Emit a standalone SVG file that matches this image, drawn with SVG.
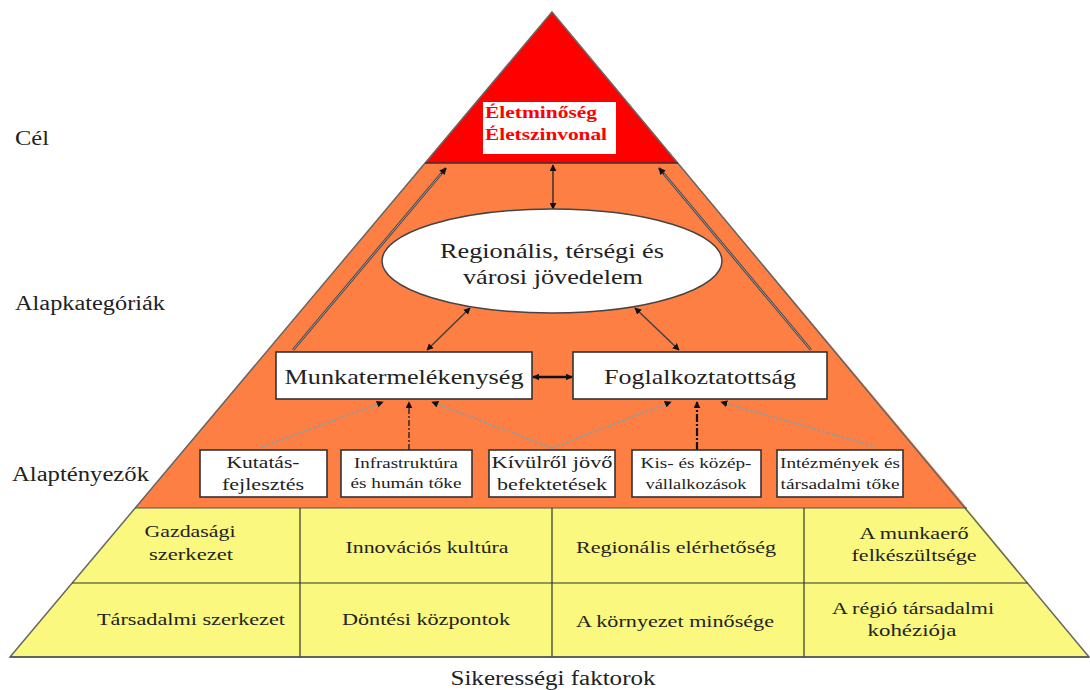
<svg xmlns="http://www.w3.org/2000/svg" width="1090" height="690" viewBox="0 0 1090 690" font-family="'Liberation Serif', 'DejaVu Serif', serif">
<style>
text{font-family:'Liberation Serif','DejaVu Serif',serif;fill:#222}
.lbl{font-size:20px}
.box{fill:#fff;stroke:#333;stroke-width:1.6}
.t22{font-size:22px;text-anchor:middle}
.t21{font-size:21px;text-anchor:middle}
.t17{font-size:17px;text-anchor:middle}
.t15{font-size:15px;text-anchor:middle}
.cell{font-size:16px;text-anchor:middle}
.goal{font-size:16px;font-weight:bold;fill:#FF0000}
.dl{stroke:#444;stroke-width:2.6;fill:none}
.dli{stroke:#bbb;stroke-width:0.8;fill:none}
.dot{stroke:#999;stroke-width:2;stroke-dasharray:3 2;fill:none}
</style>
<defs>
<marker id="ah" viewBox="0 0 10 10" refX="9" refY="5" markerWidth="7" markerHeight="7" markerUnits="userSpaceOnUse" orient="auto-start-reverse">
<path d="M0,0 L10,5 L0,10 z" fill="#111"/>
</marker>
</defs>
<rect width="1090" height="690" fill="#fff"/>
<g id="pyramid">
<polygon points="552,12 425,163 678,163" fill="#FF0000"/>
<polygon points="425,163 678,163 967,508 135,508" fill="#FD7F43"/>
<polygon points="135,508 967,508 1089,657 10,657" fill="#FAF87E"/>
<polygon points="552,12 1089,657 10,657" fill="none" stroke="#666" stroke-width="1.5"/>
<line x1="425" y1="163" x2="678" y2="163" stroke="#333" stroke-width="1.5"/>
<line x1="135" y1="508" x2="967" y2="508" stroke="#555" stroke-width="1.2"/>
<line x1="72" y1="583" x2="1028" y2="583" stroke="#333" stroke-width="1.2"/>
<line x1="300" y1="508" x2="300" y2="657" stroke="#333" stroke-width="1.2"/>
<line x1="552" y1="508" x2="552" y2="657" stroke="#333" stroke-width="1.2"/>
<line x1="804" y1="508" x2="804" y2="657" stroke="#333" stroke-width="1.2"/>
<line x1="10" y1="657" x2="1089" y2="657" stroke="#555" stroke-width="1.5"/>
</g>
<g id="labels">
<text class="lbl" x="15" y="145" textLength="34" lengthAdjust="spacingAndGlyphs">Cél</text>
<text class="lbl" x="15" y="310" textLength="150" lengthAdjust="spacingAndGlyphs">Alapkategóriák</text>
<text class="lbl" x="12" y="481" textLength="137" lengthAdjust="spacingAndGlyphs">Alaptényezők</text>
<text class="lbl" x="553" y="685" text-anchor="middle" textLength="205" lengthAdjust="spacingAndGlyphs">Sikerességi faktorok</text>
</g>
<g id="goal">
<rect x="483" y="102" width="133" height="52" fill="#fff"/>
<text class="goal" x="485" y="118" textLength="112" lengthAdjust="spacingAndGlyphs">Életminőség</text>
<text class="goal" x="485" y="140" textLength="122" lengthAdjust="spacingAndGlyphs">Életszinvonal</text>
</g>
<g id="connectors">
<line class="dl" x1="446" y1="168" x2="293" y2="350"/>
<line class="dli" x1="446" y1="168" x2="293" y2="350"/>
<line x1="446" y1="168" x2="441" y2="174" stroke="#111" stroke-width="1" marker-start="url(#ah)"/>
<line class="dl" x1="659" y1="168" x2="811" y2="350"/>
<line class="dli" x1="659" y1="168" x2="811" y2="350"/>
<line x1="659" y1="168" x2="664" y2="174" stroke="#111" stroke-width="1" marker-start="url(#ah)"/>
<line x1="553" y1="165" x2="553" y2="209" stroke="#222" stroke-width="1.3" marker-start="url(#ah)" marker-end="url(#ah)"/>
<line x1="470" y1="308" x2="427" y2="350" stroke="#444" stroke-width="1.6" marker-start="url(#ah)" marker-end="url(#ah)"/>
<line x1="635" y1="308" x2="679" y2="350" stroke="#444" stroke-width="1.6" marker-start="url(#ah)" marker-end="url(#ah)"/>
<line x1="533" y1="377" x2="572" y2="377" stroke="#111" stroke-width="2.4" marker-start="url(#ah)" marker-end="url(#ah)"/>
<line class="dot" x1="262" y1="447" x2="383" y2="402" marker-end="url(#ah)"/>
<line x1="409" y1="450" x2="409" y2="402" stroke="#222" stroke-width="1.4" stroke-dasharray="6 2 2 2" marker-end="url(#ah)"/>
<line class="dot" x1="552" y1="448" x2="432" y2="402" marker-end="url(#ah)"/>
<line class="dot" x1="552" y1="448" x2="671" y2="402" marker-end="url(#ah)"/>
<line x1="697" y1="450" x2="697" y2="402" stroke="#111" stroke-width="2.2" stroke-dasharray="8 2 2 2" marker-end="url(#ah)"/>
<line class="dot" x1="873" y1="446" x2="721" y2="402" marker-end="url(#ah)"/>
</g>
<g id="income">
<ellipse cx="552" cy="261" rx="170" ry="52" fill="#fff" stroke="#444" stroke-width="1.5"/>
<text class="t21" x="552" y="258" textLength="224" lengthAdjust="spacingAndGlyphs">Regionális, térségi és</text>
<text class="t21" x="553" y="284" textLength="180" lengthAdjust="spacingAndGlyphs">városi jövedelem</text>
</g>
<g id="productivity">
<rect class="box" x="276" y="352" width="256" height="47"/>
<text class="t22" x="404" y="384" textLength="239" lengthAdjust="spacingAndGlyphs">Munkatermelékenység</text>
</g>
<g id="employment">
<rect class="box" x="573" y="352" width="254" height="47"/>
<text class="t22" x="700" y="384" textLength="192" lengthAdjust="spacingAndGlyphs">Foglalkoztatottság</text>
</g>
<g id="rnd">
<rect class="box" x="200" y="450" width="127" height="47"/>
<text class="t17" x="263" y="468" textLength="73" lengthAdjust="spacingAndGlyphs">Kutatás-</text>
<text class="t17" x="263" y="490" textLength="82" lengthAdjust="spacingAndGlyphs">fejlesztés</text>
</g>
<g id="infra">
<rect class="box" x="341" y="450" width="131" height="47"/>
<text class="t15" x="406" y="468" textLength="104" lengthAdjust="spacingAndGlyphs">Infrastruktúra</text>
<text class="t15" x="406" y="488" textLength="111" lengthAdjust="spacingAndGlyphs">és humán tőke</text>
</g>
<g id="fdi">
<rect class="box" x="489" y="450" width="126" height="47"/>
<text class="t17" x="552" y="468" textLength="121" lengthAdjust="spacingAndGlyphs">Kívülről jövő</text>
<text class="t17" x="552" y="490" textLength="110" lengthAdjust="spacingAndGlyphs">befektetések</text>
</g>
<g id="sme">
<rect class="box" x="632" y="450" width="129" height="47"/>
<text class="t15" x="696" y="468" textLength="111" lengthAdjust="spacingAndGlyphs">Kis- és közép-</text>
<text class="t15" x="696" y="489" textLength="101" lengthAdjust="spacingAndGlyphs">vállalkozások</text>
</g>
<g id="institutions">
<rect class="box" x="777" y="450" width="126" height="47"/>
<text class="t15" x="840" y="468" textLength="120" lengthAdjust="spacingAndGlyphs">Intézmények és</text>
<text class="t15" x="840" y="489" textLength="119" lengthAdjust="spacingAndGlyphs">társadalmi tőke</text>
</g>
<g id="factors">
<text class="cell" x="190" y="537" textLength="91" lengthAdjust="spacingAndGlyphs">Gazdasági</text>
<text class="cell" x="191" y="560" textLength="84" lengthAdjust="spacingAndGlyphs">szerkezet</text>
<text class="cell" x="427" y="553" textLength="163" lengthAdjust="spacingAndGlyphs">Innovációs kultúra</text>
<text class="cell" x="676" y="553" textLength="200" lengthAdjust="spacingAndGlyphs">Regionális elérhetőség</text>
<text class="cell" x="914" y="539" textLength="109" lengthAdjust="spacingAndGlyphs">A munkaerő</text>
<text class="cell" x="914" y="561" textLength="125" lengthAdjust="spacingAndGlyphs">felkészültsége</text>
<text class="cell" x="191" y="625" textLength="188" lengthAdjust="spacingAndGlyphs">Társadalmi szerkezet</text>
<text class="cell" x="426" y="625" textLength="168" lengthAdjust="spacingAndGlyphs">Döntési központok</text>
<text class="cell" x="675" y="627" textLength="198" lengthAdjust="spacingAndGlyphs">A környezet minősége</text>
<text class="cell" x="913" y="614" textLength="162" lengthAdjust="spacingAndGlyphs">A régió társadalmi</text>
<text class="cell" x="912" y="636" textLength="89" lengthAdjust="spacingAndGlyphs">kohéziója</text>
</g>
</svg>
